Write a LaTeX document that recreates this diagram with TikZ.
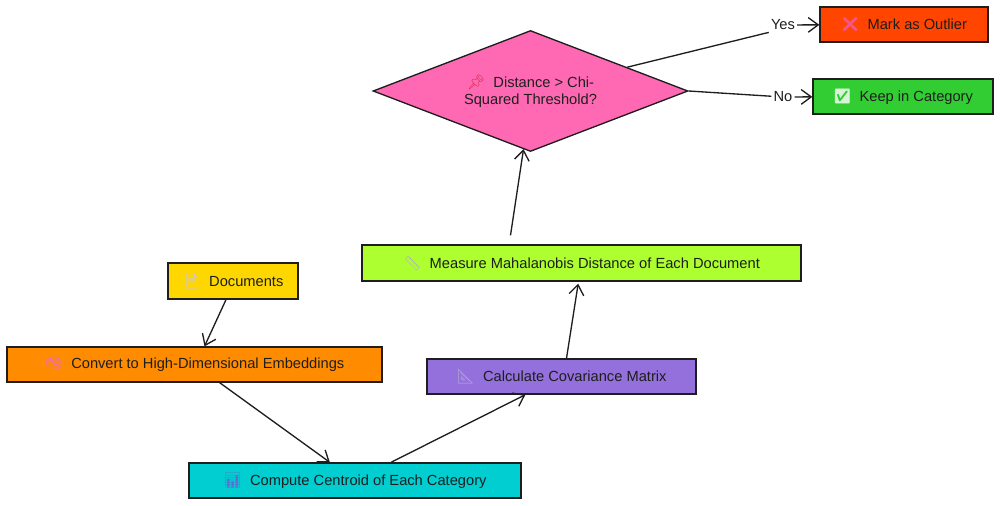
\documentclass[tikz,border=0pt]{standalone}
\usepackage{fontspec}
\setmainfont{Liberation Sans}
\newfontfamily\emo{Noto Emoji}
\usetikzlibrary{arrows.meta,shapes.geometric,calc}
\definecolor{ink}{HTML}{1E1E1E}
\definecolor{cdoc}{HTML}{FFD700}
\definecolor{cconv}{HTML}{FF8C00}
\definecolor{ccomp}{HTML}{00CED1}
\definecolor{ccov}{HTML}{9370DB}
\definecolor{cmeas}{HTML}{ADFF2F}
\definecolor{cdia}{HTML}{FF69B4}
\definecolor{cmark}{HTML}{FF4500}
\definecolor{ckeep}{HTML}{32CD32}
\definecolor{edoc}{HTML}{C8C2E6}
\definecolor{ebrain}{HTML}{F06CB0}
\definecolor{echart}{HTML}{5B6FD0}
\definecolor{etool}{HTML}{B8A9D9}
\definecolor{epin}{HTML}{D8344E}
\definecolor{ecross}{HTML}{F5558E}
\definecolor{echeck}{HTML}{D6F5D6}
\newcommand{\emj}[2]{{\emo\textcolor{#1}{#2}}\hspace{6pt}}
\begin{document}
\begin{tikzpicture}[x=0.75pt,y=-0.75pt,
  font=\fontsize{11}{13}\selectfont, text=ink,
  box/.style={draw=ink, line width=1pt, inner sep=0pt, minimum height=26.25pt},
  conn/.style={draw=ink, line width=1pt},
  arr/.style={conn, -{Straight Barb[length=7.5pt,width=11pt,line width=1pt]}},
  lbl/.style={inner sep=1.5pt}]
\useasboundingbox (0,0) rectangle (1000,506);

\node[box, fill=cdoc, minimum width=97.5pt, minimum height=27pt] (docs) at (233,281)
  {\emj{edoc}{📄}Documents};
\node[box, fill=cconv, minimum width=281.25pt] (conv) at (194.5,364.5)
  {\emj{ebrain}{🧠}Convert to High-Dimensional Embeddings};
\node[box, fill=ccomp, minimum width=249pt] (comp) at (355,480.5)
  {\emj{echart}{📊}Compute Centroid of Each Category};
\node[box, fill=ccov, minimum width=201.75pt] (cov) at (561.5,376.5)
  {\emj{etool}{📐}Calculate Covariance Matrix};
\node[box, fill=cmeas, minimum width=329.25pt, minimum height=27pt] (meas) at (581.5,263)
  {\emj{etool}{📏}Measure Mahalanobis Distance of Each Document};
\node[diamond, draw=ink, fill=cdia, line width=1pt, inner sep=0pt, shape aspect=2.6,
  minimum width=236.25pt, minimum height=90.75pt, align=center] (dia) at (530.5,91)
  {\emj{epin}{📌}Distance > Chi-\\Squared Threshold?};
\node[box, fill=cmark, minimum width=126pt] (mark) at (904,24.5)
  {\emj{ecross}{❌}Mark as Outlier};
\node[box, fill=ckeep, minimum width=135pt] (keep) at (903,96.5)
  {\emj{echeck}{✅}Keep in Category};

\node[lbl] (yes) at (783,25) {Yes};
\node[lbl] (no) at (783,97) {No};

\draw[arr] ([xshift=-5.25pt]docs.south) -- ([xshift=7.5pt]conv.north);
\draw[arr] (conv) -- (comp);
\draw[arr] (comp) -- (cov);
\draw[arr] ([xshift=3.75pt]cov.north) -- ([xshift=-2.5pt,yshift=-1.5pt]meas.south);
\draw[arr] ([shift={(-71,-9)}]meas.north) -- ([shift={(-7,-3)}]dia.south);
\draw[conn] (dia) -- (yes.south west);
\draw[arr] (yes) -- (mark);
\draw[conn] (dia.east) -- (no);
\draw[arr] (no) -- (keep);
\end{tikzpicture}
\end{document}
